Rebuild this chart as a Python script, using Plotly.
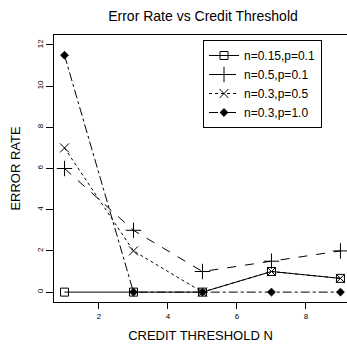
import plotly.graph_objects as go

thresholds = [1, 3, 5, 7, 9]
s1 = [0, 0, 0, 1, 0.667]
s2 = [6, 3, 1, 1.5, 2]
s3 = [7, 2, 0, 1, 0.667]
s4 = [11.5, 0, 0, 0, 0]
names = ["n=0.15,p=0.1", "n=0.5,p=0.1", "n=0.3,p=0.5", "n=0.3,p=1.0"]
x_ticks = [2, 4, 6, 8]
y_ticks = [0, 2, 4, 6, 8, 10, 12]

series = [s1, s2, s3, s4]
dashes = ["solid", "dash", "dot", "dashdot"]
symbols = ["square-open", "cross-thin-open", "x-thin-open", "diamond"]
sizes = [8, 11, 9, 6]

fig = go.Figure()
for ys, nm, d, sym, sz in zip(series, names, dashes, symbols, sizes):
    fig.add_trace(go.Scatter(
        x=thresholds, y=ys, name=nm, mode="lines+markers",
        line=dict(color="black", width=1, dash=d),
        marker=dict(symbol=sym, size=sz, color="black",
                    line=dict(color="black", width=1)),
        cliponaxis=False,
    ))

font = "Liberation Sans, Arial, sans-serif"
fig.update_layout(
    width=347, height=345,
    margin=dict(l=54, r=0, t=35, b=43, autoexpand=False),
    paper_bgcolor="white", plot_bgcolor="white",
    font=dict(family=font, color="black"),
    title=dict(text="Error Rate vs Credit Threshold", x=203/347, xanchor="center",
               xref="container", y=1 - 16/345, yanchor="middle",
               font=dict(size=14)),
    showlegend=True,
    legend=dict(x=(203 - 54) / 293, y=1 - 5 / 267, xref="paper", yref="paper",
                xanchor="left", yanchor="top",
                bordercolor="black", borderwidth=1, bgcolor="white",
                font=dict(size=12), itemwidth=30, tracegroupgap=0),
)
fig.update_xaxes(
    range=[0.696, 9.19], tickvals=x_ticks, showgrid=False, zeroline=False,
    showline=True, linecolor="black", linewidth=1, mirror=True,
    ticks="outside", ticklen=6, tickcolor="black",
    tickfont=dict(size=8),
    title=dict(text="CREDIT THRESHOLD N", font=dict(size=13), standoff=11),
)
fig.update_yaxes(
    range=[-0.48, 12.48], tickvals=y_ticks, showgrid=False, zeroline=False,
    showline=True, linecolor="black", linewidth=1, mirror=False,
    ticks="outside", ticklen=7, tickcolor="black",
    tickfont=dict(size=8), tickangle=-90,
    title=dict(text="ERROR RATE", font=dict(size=13), standoff=12),
)
fig.write_html("out.html", config={"displayModeBar": False},
               post_script="document.body.style.margin='0px';")
